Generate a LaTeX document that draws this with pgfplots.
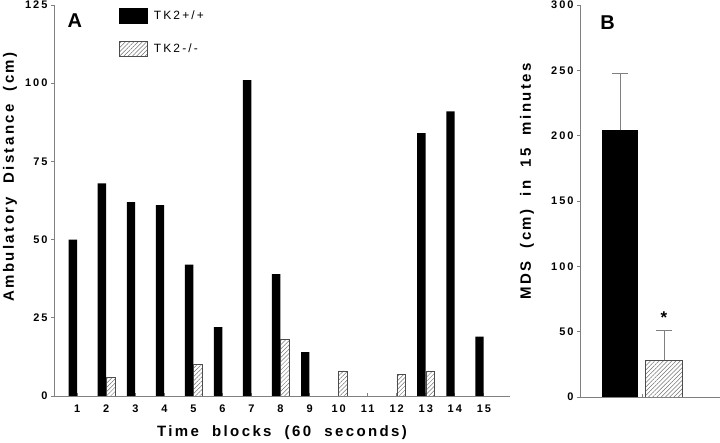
\documentclass[border=0pt]{standalone}
\usepackage{fontspec}
\setmainfont{Liberation Sans}
\newfontfamily\spaced{Liberation Sans}[LetterSpace=18]
\newfontfamily\labfont{Liberation Sans}[LetterSpace=16]
\usepackage{pgfplots}
\usepackage{pgfplotstable}
\pgfplotsset{compat=1.18}
\usetikzlibrary{patterns.meta}

\pgfplotstableread{
x y
1 50
2 68
3 62
4 61
5 42
6 22
7 101
8 39
9 14
13 84
14 91
15 19
}\wt
\pgfplotstableread{
x y
2 6
5 10
8 18
10 8
12 7
13 8
}\ko

\definecolor{axgray}{RGB}{128,128,128}
\tikzset{hatch/.style={pattern={Lines[angle=45,distance=3pt,line width=0.5pt]}, pattern color=gray!90!black, draw=gray!60!black, line width=0.6pt}}
\pgfplotsset{rectlegend/.style={legend image code/.code={\draw[##1] (0pt,-7.5pt) rectangle (28pt,7.5pt);}}}

\begin{document}
\begin{tikzpicture}[x=1pt,y=1pt]
\path[use as bounding box] (0,0) rectangle (720,443);
\begin{axis}[
  at={(54pt,47pt)}, anchor=south west,
  scale only axis, width=456pt, height=391pt,
  xmin=0.2, xmax=15.9, ymin=0, ymax=125,
  axis x line*=bottom, axis y line*=left,
  axis line style={axgray, line width=0.8pt},
  ytick={0,25,...,125}, xtick={1,...,15},
  tick style={axgray, line width=0.8pt},
  tick align=outside, major tick length=3pt,
  xtick style={yshift=3pt},
  /pgf/number format/assume math mode=true,
  ticklabel style={font=\spaced\bfseries\fontsize{11}{13}\selectfont},
  xticklabel style={yshift=-2pt},
  xlabel={Time\ \ blocks\ \ (60\ \ seconds)},
  ylabel={Ambulatory\ \ Distance\ \ (cm)},
  label style={font=\labfont\bfseries\fontsize{15}{18}\selectfont},
  xlabel style={at={(axis description cs:0.5,0)}, yshift=-37pt, anchor=center},
  ylabel style={at={(axis description cs:0,0.56)}, yshift=44pt, anchor=center},
  legend style={draw=none, fill=none, at={(axis description cs:0.1425,0.992)}, anchor=north west, inner sep=0pt, row sep=17pt, font=\spaced\fontsize{12}{14}\selectfont, column sep=4pt},
  legend cell align=left,
]
\addplot[ybar, fill=black, draw=none, bar width=0.29, bar shift=-0.15, rectlegend] table[x=x,y=y]{\wt};
\addlegendentry{TK2+/+}
\addplot[ybar, hatch, bar width=0.29, bar shift=0.15, rectlegend] table[x=x,y=y]{\ko};
\addlegendentry{TK2-/-}
\node[font=\bfseries\fontsize{20}{20}\selectfont, anchor=west] at (axis description cs:0.022,0.96) {A};
\end{axis}

\begin{axis}[
  at={(580pt,46pt)}, anchor=south west,
  scale only axis, width=140pt, height=392pt,
  xmin=0, xmax=3.5, ymin=0, ymax=300,
  axis x line*=bottom, axis y line*=left,
  axis line style={axgray, line width=0.8pt},
  ytick={0,50,...,300}, xtick={1.55}, xticklabels={},
  tick style={axgray, line width=0.8pt},
  tick align=outside, major tick length=3pt,
  xtick style={yshift=3pt},
  /pgf/number format/assume math mode=true,
  ticklabel style={font=\spaced\bfseries\fontsize{11}{13}\selectfont},
  ylabel={MDS\ \ (cm)\ \ in\ \ 15\ \ minutes},
  label style={font=\labfont\bfseries\fontsize{15}{18}\selectfont},
  ylabel style={at={(axis description cs:0,0.55)}, yshift=53pt, anchor=center},
]
\addplot[ybar, fill=black, draw=none, bar width=0.9, bar shift=0,
  error bars/.cd, y dir=plus, y explicit,
  error bar style={axgray, line width=0.8pt},
  error mark options={rotate=90, axgray, mark size=8pt, line width=0.8pt}]
  coordinates {(1,204) +- (0,44)};
\addplot[ybar, hatch, bar width=0.92, bar shift=0,
  error bars/.cd, y dir=plus, y explicit,
  error bar style={axgray, line width=0.8pt},
  error mark options={rotate=90, axgray, mark size=8pt, line width=0.8pt}]
  coordinates {(2.1,28) +- (0,23)};
\node[font=\bfseries\fontsize{17}{17}\selectfont] at (axis cs:2.1,61) {*};
\node[font=\bfseries\fontsize{20}{20}\selectfont, anchor=west] at (axis description cs:0.12,0.955) {B};
\end{axis}
\end{tikzpicture}
\end{document}
